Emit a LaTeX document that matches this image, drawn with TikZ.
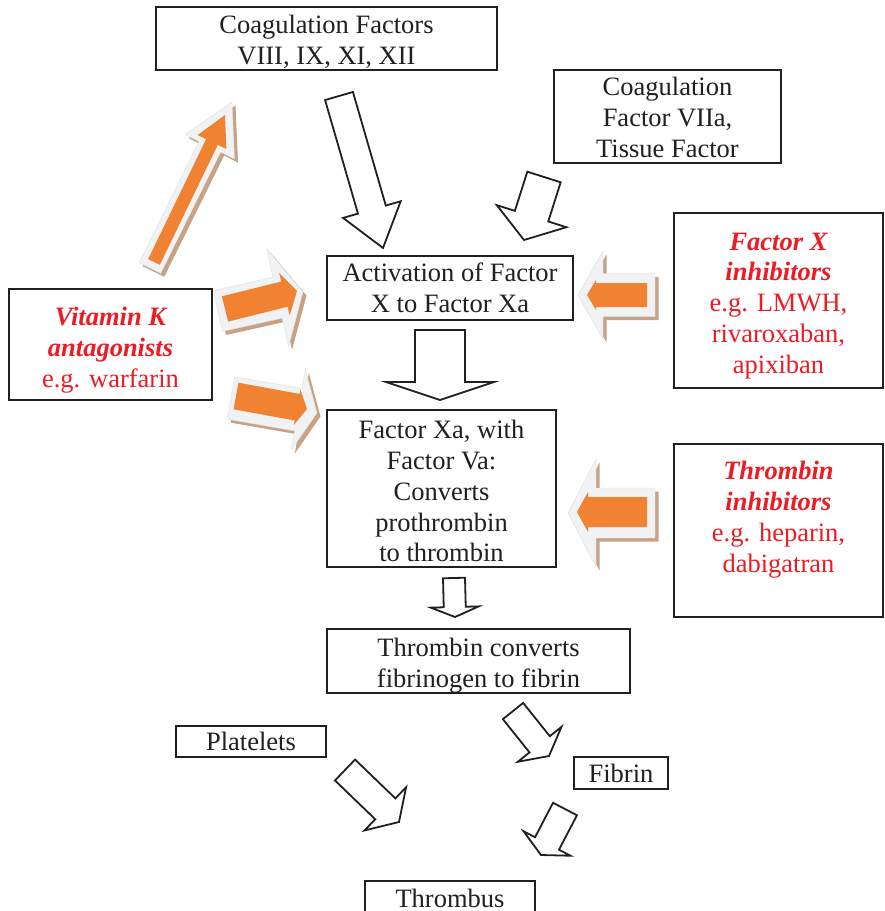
\documentclass[tikz,border=0pt]{standalone}
\usepackage{fontspec}
\setmainfont{Liberation Serif}
\usetikzlibrary{calc}

\definecolor{inkgray}{HTML}{231F20}
\definecolor{drugred}{HTML}{ED1C24}
\definecolor{arroworange}{HTML}{F08232}
\definecolor{arrowpale}{HTML}{F1F2F4}
\definecolor{arrowshadow}{HTML}{C7A285}

% strut on the first line, lowers the text block a little
\newcommand{\topgap}[1]{\rule{0pt}{#1}}

% block arrow from tail (#2) to tip (#3): shaft width, head width, head length
\newcommand{\blockarrow}[6][]{%
  \pgfmathsetmacro{\arshaft}{#4/2}%
  \pgfmathsetmacro{\arhead}{#5/2}%
  \draw[#1] ($(#2)!\arshaft pt!90:(#3)$)
    -- ($($(#3)!#6pt!(#2)$)!\arshaft pt!90:(#3)$)
    -- ($($(#3)!#6pt!(#2)$)!\arhead pt!90:(#3)$)
    -- (#3)
    -- ($($(#3)!#6pt!(#2)$)!\arhead pt!-90:(#3)$)
    -- ($($(#3)!#6pt!(#2)$)!\arshaft pt!-90:(#3)$)
    -- ($(#2)!\arshaft pt!-90:(#3)$) -- cycle;}

\tikzset{
  boxfont/.style={font=\fontsize{26.5}{30.8}\selectfont},
  box/.style={draw=inkgray, line width=2pt, fill=white, text=inkgray,
    align=center, inner sep=0pt, boxfont},
  drugbox/.style={box, text=drugred},
  hollow/.style={draw=inkgray, line width=1.8pt, fill=white, line join=miter},
  shadowshape/.style={fill=arrowshadow, draw=none,
    transform canvas={shift={(3.5pt,-3.5pt)}}},
  paleshape/.style={fill=arrowpale, draw=arrowpale!92!black, line width=0.4pt},
  orangeshape/.style={fill=arroworange, draw=none},
}

\begin{document}
\begin{tikzpicture}[x=1pt, y=-1pt]
  \useasboundingbox (0,0) rectangle (885,911);

  % Boxes
  \node[box, minimum width=341pt, minimum height=63pt] (factors) at (326.5,38.5)
    {\topgap{25pt}Coagulation Factors\\VIII, IX, XI, XII};
  \node[box, minimum width=227pt, minimum height=93pt] (tissue) at (667.5,116.5)
    {\topgap{20pt}Coagulation\\Factor VIIa,\\Tissue Factor};
  \node[box, minimum width=246pt, minimum height=64pt] (activation) at (450,288)
    {\topgap{19pt}Activation of Factor\\X to Factor Xa};
  \node[box, minimum width=229pt, minimum height=157pt] (xa) at (441.5,488.5)
    {\topgap{24pt}Factor Xa, with\\Factor Va:\\Converts\\prothrombin\\to thrombin};
  \node[box, minimum width=303pt, minimum height=62pt] (convert) at (478.5,661)
    {\topgap{28pt}Thrombin converts\\fibrinogen to fibrin};
  \node[box, minimum width=150pt, minimum height=31pt] (platelets) at (251,741.5) {Platelets};
  \node[box, minimum width=94pt, minimum height=32pt] (fibrin) at (621,773) {Fibrin};
  \node[box, minimum width=170pt, minimum height=34pt] (thrombus) at (450,898) {Thrombus};

  % Drug boxes
  \node[drugbox, minimum width=203pt, minimum height=111pt] (vitk) at (110.5,344.5)
    {\topgap{30pt}{\bfseries\itshape Vitamin K}\\{\bfseries\itshape antagonists}\\e.g. warfarin};
  \node[drugbox, minimum width=209pt, minimum height=175pt] (xinhib) at (778.5,300.5)
    {\topgap{28pt}{\bfseries\itshape Factor X}\\{\bfseries\itshape inhibitors}\\e.g. LMWH,\\rivaroxaban,\\apixiban};
  \node[drugbox, minimum width=209pt, minimum height=173pt] (thrinhib) at (778.5,530.5) {};
  \node[text=drugred, align=center, inner sep=0pt, boxfont] (thrinhibtext) at (778.5,519.5)
    {{\bfseries\itshape Thrombin}\\{\bfseries\itshape inhibitors}\\e.g. heparin,\\dabigatran};

  % Arrow ends
  \coordinate (upperT) at (339,96);    \coordinate (upperH) at (383,248);
  \coordinate (tissueT) at (544,177);  \coordinate (tissueH) at (524,240);
  \coordinate (actT) at (440,330);     \coordinate (actH) at (440,400);
  \coordinate (xaT) at (454,578);      \coordinate (xaH) at (455,617);
  \coordinate (fibT) at (513,711);     \coordinate (fibH) at (549,756);
  \coordinate (fibrinT) at (565,809);  \coordinate (fibrinH) at (541,855);
  \coordinate (platT) at (345,770);    \coordinate (platH) at (399,822);

  \coordinate (vkUpT) at (150,268);    \coordinate (vkUpH) at (232,102);
  \coordinate (vkUpTi) at (154,262);   \coordinate (vkUpHi) at (225,115);
  \coordinate (vkMidT) at (218,311);   \coordinate (vkMidH) at (303,292);
  \coordinate (vkMidTi) at (225,309);  \coordinate (vkMidHi) at (297,291);
  \coordinate (vkLowT) at (231,398);   \coordinate (vkLowH) at (317,413);
  \coordinate (vkLowTi) at (236,396);  \coordinate (vkLowHi) at (307,409);
  \coordinate (xiT) at (655,295);      \coordinate (xiH) at (578,295);
  \coordinate (xiTi) at (647,295);     \coordinate (xiHi) at (587,295);
  \coordinate (thiT) at (655,513);     \coordinate (thiH) at (568,513);
  \coordinate (thiTi) at (647,512);    \coordinate (thiHi) at (577,512);

  % Pathway arrows
  \blockarrow[hollow]{upperT}{upperH}{29}{60}{40}
  \blockarrow[hollow]{tissueT}{tissueH}{35}{73}{25}
  \blockarrow[hollow]{actT}{actH}{50}{108}{18}
  \blockarrow[hollow]{xaT}{xaH}{22}{48}{10}
  \blockarrow[hollow]{fibT}{fibH}{26}{56}{15}
  \blockarrow[hollow]{fibrinT}{fibrinH}{27}{53}{13}
  \blockarrow[hollow]{platT}{platH}{29}{60}{19}

  % Drug arrows
  \blockarrow[shadowshape]{vkUpT}{vkUpH}{24}{55}{50}
  \blockarrow[paleshape]{vkUpT}{vkUpH}{24}{55}{50}
  \blockarrow[orangeshape]{vkUpTi}{vkUpHi}{13}{32}{30}

  \blockarrow[shadowshape]{vkMidT}{vkMidH}{42}{100}{26}
  \blockarrow[paleshape]{vkMidT}{vkMidH}{42}{100}{26}
  \blockarrow[orangeshape]{vkMidTi}{vkMidHi}{26}{44}{13}

  \blockarrow[shadowshape]{vkLowT}{vkLowH}{43}{82}{19}
  \blockarrow[paleshape]{vkLowT}{vkLowH}{43}{82}{19}
  \blockarrow[orangeshape]{vkLowTi}{vkLowHi}{27}{36}{10}

  \blockarrow[shadowshape]{xiT}{xiH}{43}{88}{25}
  \blockarrow[paleshape]{xiT}{xiH}{43}{88}{25}
  \blockarrow[orangeshape]{xiTi}{xiHi}{24}{30}{9}

  \blockarrow[shadowshape]{thiT}{thiH}{50}{108}{28}
  \blockarrow[paleshape]{thiT}{thiH}{50}{108}{28}
  \blockarrow[orangeshape]{thiTi}{thiHi}{30}{40}{11}
\end{tikzpicture}
\end{document}
